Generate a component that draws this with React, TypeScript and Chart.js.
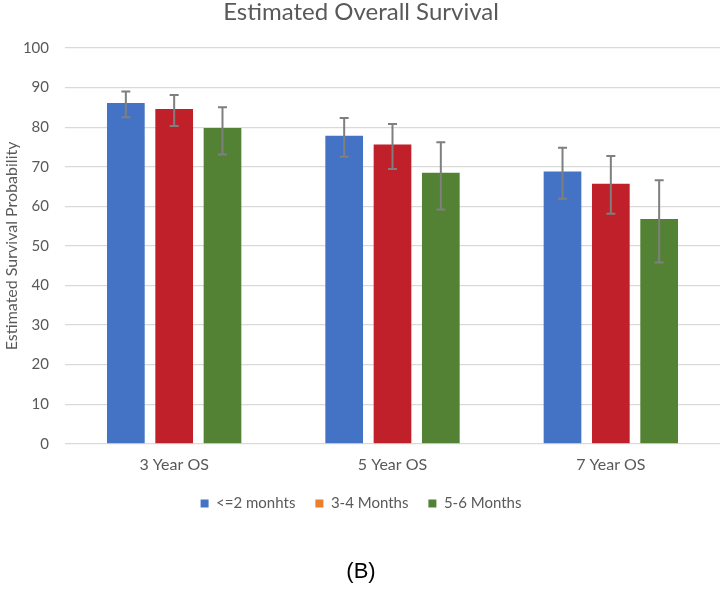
import React, { useEffect, useRef } from "react";
import { Chart, registerables } from "chart.js";

Chart.register(...registerables);

const categories = ["3 Year OS", "5 Year OS", "7 Year OS"];
const seriesLabels = ["<=2 monhts", "3-4 Months", "5-6 Months"];
const le2Values = [86.1, 77.8, 68.8];
const m34Values = [84.6, 75.6, 65.7];
const m56Values = [79.8, 68.5, 56.8];
const le2Low = [82.5, 72.5, 61.9];
const le2High = [89.0, 82.3, 74.8];
const m34Low = [80.3, 69.4, 58.1];
const m34High = [88.1, 80.8, 72.7];
const m56Low = [73.1, 59.2, 45.8];
const m56High = [85.0, 76.2, 66.6];
const yTicks = [0, 10, 20, 30, 40, 50, 60, 70, 80, 90, 100];

const barColors = ["#4472C4", "#C0202A", "#548235"];
const legendColors = ["#4472C4", "#ED7D31", "#548235"];
const FONT = "Lato, 'Open Sans', sans-serif";
const TEXT = "#595959";

const lows = [le2Low, m34Low, m56Low];
const highs = [le2High, m34High, m56High];

const errorBarPlugin = {
  id: "errorBars",
  afterDatasetsDraw(chart: any) {
    const ctx = chart.ctx;
    const y = chart.scales.y;
    ctx.save();
    ctx.strokeStyle = "#7F7F7F";
    ctx.lineWidth = 2;
    chart.data.datasets.forEach((_: any, i: number) => {
      const meta = chart.getDatasetMeta(i);
      meta.data.forEach((el: any, j: number) => {
        const x = el.x;
        const yh = y.getPixelForValue(highs[i][j]);
        const yl = y.getPixelForValue(lows[i][j]);
        ctx.beginPath();
        ctx.moveTo(x, yh);
        ctx.lineTo(x, yl);
        ctx.moveTo(x - 4.5, yh);
        ctx.lineTo(x + 4.5, yh);
        ctx.moveTo(x - 4.5, yl);
        ctx.lineTo(x + 4.5, yl);
        ctx.stroke();
      });
    });
    ctx.restore();
  },
};

const legendNudgePlugin = {
  id: "legendNudge",
  afterLayout(chart: any) {
    const lg = chart.legend;
    if (lg) {
      lg.top -= 9;
      lg.bottom -= 9;
    }
  },
};

export default function App() {
  const ref = useRef<HTMLCanvasElement>(null);
  useEffect(() => {
    if (!ref.current) return;
    const values = [le2Values, m34Values, m56Values];
    const chart = new Chart(ref.current, {
      type: "bar",
      data: {
        labels: categories,
        datasets: seriesLabels.map((label, i) => ({
          label,
          data: values[i],
          backgroundColor: barColors[i],
          borderWidth: 0,
          categoryPercentage: 0.664,
          barPercentage: 0.78,
        })),
      },
      options: {
        responsive: false,
        animation: false,
        layout: { padding: { left: 2, right: 2, top: 0, bottom: 62 } },
        plugins: {
          title: {
            display: true,
            text: "Estimated Overall Survival",
            color: TEXT,
            font: { family: FONT, size: 24, weight: "normal", lineHeight: 1 },
            padding: { top: 0, bottom: 24 },
          },
          legend: {
            position: "bottom",
            labels: {
              color: TEXT,
              font: { family: FONT, size: 15 },
              boxWidth: 8,
              boxHeight: 8,
              padding: 20,
              generateLabels: (chart: any) =>
                chart.data.datasets.map((ds: any, i: number) => ({
                  text: ds.label,
                  fillStyle: legendColors[i],
                  strokeStyle: legendColors[i],
                  lineWidth: 0,
                  fontColor: TEXT,
                  hidden: false,
                  datasetIndex: i,
                })),
            },
          },
          tooltip: { enabled: false },
        },
        scales: {
          x: {
            grid: { display: false, drawTicks: false },
            border: { display: false },
            ticks: { color: TEXT, font: { family: FONT, size: 16 }, padding: 11 },
          },
          y: {
            min: 0,
            max: 100,
            afterBuildTicks: (scale: any) => {
              scale.ticks = yTicks.map((v) => ({ value: v }));
            },
            afterFit: (scale: any) => {
              scale.width = 63;
            },
            grid: { color: "#D9D9D9", lineWidth: 1.3, drawTicks: false },
            border: { display: false },
            ticks: { color: TEXT, font: { family: FONT, size: 15 }, padding: 16 },
            title: {
              display: true,
              text: "Estimated Survival Probability",
              color: TEXT,
              font: { family: FONT, size: 16 },
              padding: { top: 0, bottom: 0 },
            },
          },
        },
      },
      plugins: [errorBarPlugin, legendNudgePlugin],
    });
    return () => chart.destroy();
  }, []);
  return (
    <div style={{ position: "fixed", left: 0, top: 0, width: 722, height: 592, background: "#fff" }}>
      <canvas ref={ref} width={722} height={592} style={{ display: "block" }} />
      <div
        style={{
          position: "absolute",
          left: 0,
          width: 722,
          top: 558,
          textAlign: "center",
          fontFamily: "'Liberation Sans', Arial, sans-serif",
          fontSize: 22,
          color: "#000",
        }}
      >
        (B)
      </div>
    </div>
  );
}
